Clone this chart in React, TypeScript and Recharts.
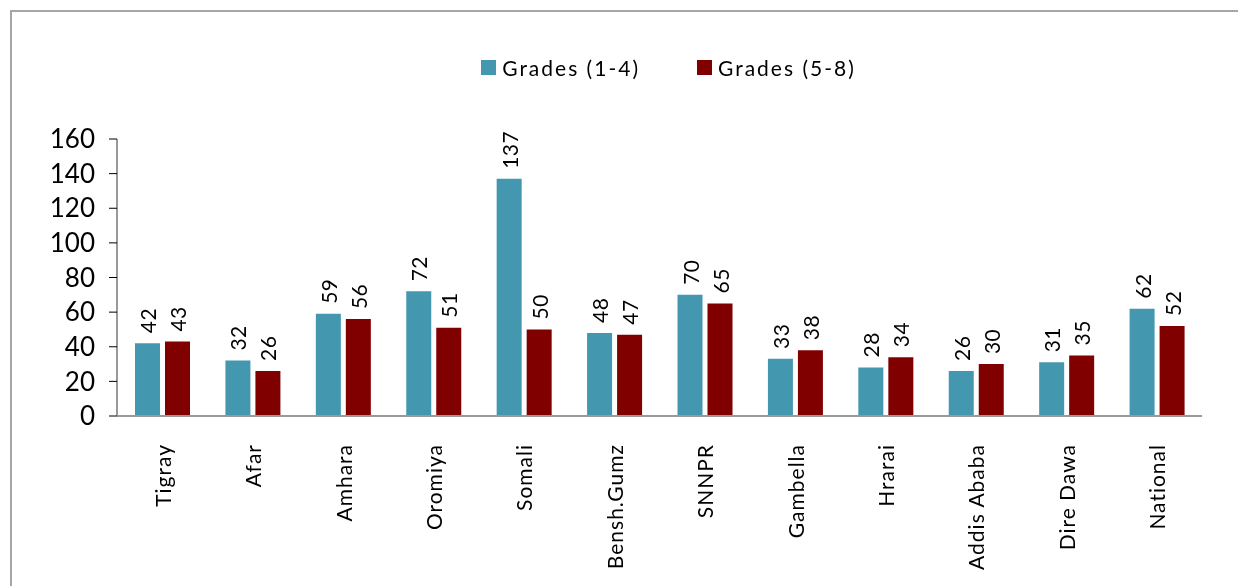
import React from "react";
import { Bar, BarChart, LabelList, Legend, XAxis, YAxis } from "recharts";

const regions = [
  "Tigray",
  "Afar",
  "Amhara",
  "Oromiya",
  "Somali",
  "Bensh.Gumz",
  "SNNPR",
  "Gambella",
  "Hrarai",
  "Addis Ababa",
  "Dire Dawa",
  "National"
];
const grades14 = [42, 32, 59, 72, 137, 48, 70, 33, 28, 26, 31, 62];
const grades58 = [43, 26, 56, 51, 50, 47, 65, 38, 34, 30, 35, 52];
const yTicks = [0, 20, 40, 60, 80, 100, 120, 140, 160];

const FONT = "Lato, 'Liberation Sans', sans-serif";
const TEAL = "#4398b0";
const MAROON = "#800000";

const data = regions.map((region, i) => ({
  region,
  g14: grades14[i],
  g58: grades58[i]
}));

const CategoryTick = (props: any) => {
  const { x, y, payload } = props;
  return (
    <text
      x={x}
      y={y + 20}
      transform={`rotate(-90, ${x}, ${y + 20})`}
      textAnchor="end"
      dominantBaseline="central"
      fontSize={21}
      letterSpacing={1}
      fontFamily={FONT}
      fill="#000">
      {payload.value}
    </text>
  );
};

const ValueLabel = (props: any) => {
  const { x, y, width, value } = props;
  const cx = x + width / 2;
  const cy = y - 10;
  return (
    <text
      x={cx}
      y={cy}
      transform={`rotate(-90, ${cx}, ${cy})`}
      textAnchor="start"
      dominantBaseline="central"
      fontSize={21}
      letterSpacing={0.5}
      fontFamily={FONT}
      fill="#000">
      {value}
    </text>
  );
};

const LegendBox = () => (
  <div
    style={{
      display: "flex",
      justifyContent: "center",
      paddingLeft: 77,
      fontFamily: FONT,
      fontSize: 21,
      color: "#000"
    }}>
    {[
      { name: "Grades (1-4)", color: TEAL },
      { name: "Grades (5-8)", color: MAROON }
    ].map((item, i) => (
      <div key={item.name} style={{ display: "flex", alignItems: "center", marginLeft: i ? 57 : 0 }}>
        <span style={{ width: 15, height: 15, background: item.color, marginRight: 6 }} />
        <span style={{ letterSpacing: 2 }}>{item.name}</span>
      </div>
    ))}
  </div>
);

export default function App() {
  return (
    <div style={{ position: "fixed", left: 0, top: 0, width: 1238, height: 586, overflow: "hidden" }}>
      <div
        style={{
          position: "absolute",
          left: 10,
          top: 10,
          width: 1250,
          height: 600,
          border: "2px solid #a6a6a6",
          boxSizing: "border-box"
        }}>
        <BarChart
          width={1226}
          height={566}
          data={data}
          margin={{ top: 127, right: 36, bottom: 12, left: 25 }}
          barSize={25}
          barGap={5}>
          <Legend
            verticalAlign="middle"
            align="center"
            content={<LegendBox />}
            wrapperStyle={{ top: 43, left: 0, width: 1236 }}
          />
          <XAxis
            dataKey="region"
            interval={0}
            height={150}
            tickLine={false}
            axisLine={{ stroke: "#999", strokeWidth: 2 }}
            tick={<CategoryTick />}
          />
          <YAxis
            domain={[0, 160]}
            ticks={yTicks}
            interval={0}
            width={80}
            tickSize={8}
            axisLine={{ stroke: "#999", strokeWidth: 2 }}
            tickLine={{ stroke: "#000" }}
            tick={{ fontSize: 26, fontFamily: FONT, fill: "#000" }}
            tickMargin={14}
          />
          <Bar dataKey="g14" name="Grades (1-4)" fill={TEAL} isAnimationActive={false}>
            <LabelList dataKey="g14" content={<ValueLabel />} />
          </Bar>
          <Bar dataKey="g58" name="Grades (5-8)" fill={MAROON} isAnimationActive={false}>
            <LabelList dataKey="g58" content={<ValueLabel />} />
          </Bar>
        </BarChart>
      </div>
    </div>
  );
}
